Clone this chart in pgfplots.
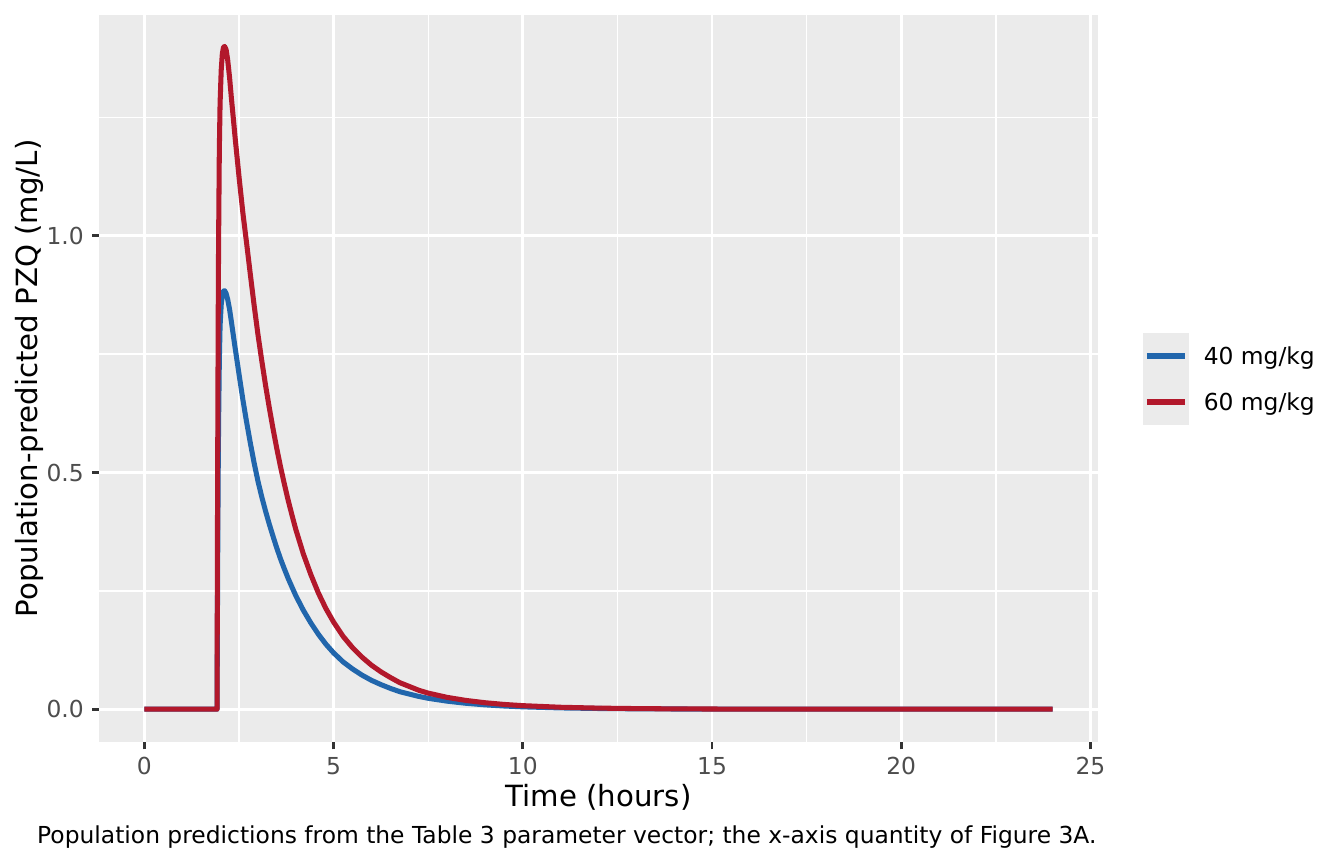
\documentclass[border=0pt]{standalone}
\usepackage{pgfplots}
\pgfplotsset{compat=1.18}
\usepackage{fontspec}
\setmainfont{DejaVu Sans}

\definecolor{panel}{HTML}{EBEBEB}
\definecolor{pzqblue}{HTML}{2166AC}
\definecolor{pzqred}{HTML}{B2182B}
\definecolor{ticktext}{HTML}{4D4D4D}
\definecolor{tickline}{HTML}{333333}
\newcommand{\ticksize}{\fontsize{8.8}{10}\selectfont}
\newcommand{\titlesize}{\fontsize{11}{13}\selectfont}

\begin{document}
\begin{tikzpicture}
\useasboundingbox (0,0) rectangle (505.89pt,325.22pt);
\begin{axis}[
  at={(37.26pt,45.81pt)}, anchor=south west,
  scale only axis, width=376.03pt, height=273.87pt,
  xmin=-1.2, xmax=25.2, ymin=-0.0699, ymax=1.467,
  axis background/.style={fill=panel},
  axis line style={draw=none},
  xtick={0,5,10,15,20,25}, xticklabels={0,5,10,15,20,25},
  ytick={0,0.5,1}, yticklabels={0.0,0.5,1.0},
  minor xtick={2.5,7.5,12.5,17.5,22.5},
  minor ytick={0.25,0.75,1.25},
  xtick pos=left, ytick pos=left,
  tick align=outside,
  major tick length=2.63pt, minor tick length=0pt,
  tick style={tickline, line width=1.07pt},
  grid=both,
  major grid style={white, line width=1.07pt},
  minor grid style={white, line width=0.53pt},
  ticklabel style={font=\ticksize, text=ticktext},
  xticklabel style={anchor=north, inner sep=0pt, yshift=-2.79pt},
  yticklabel style={anchor=east, inner sep=0pt, xshift=-2.9pt},
]
% 40 mg/kg
\addplot[pzqblue, line width=1.9pt, line join=round] table {
0 0
1.92 0
1.93 0.2
1.94 0.37
1.95 0.5
1.96 0.6
1.98 0.735
2.00 0.81
2.03 0.855
2.06 0.875
2.09 0.883
2.12 0.884
2.16 0.878
2.20 0.866
2.25 0.845
2.30 0.818
2.35 0.79
2.40 0.762
2.45 0.735
2.50 0.708
2.60 0.655
2.70 0.607
2.80 0.562
2.90 0.52
3.00 0.482
3.10 0.449
3.20 0.419
3.30 0.391
3.40 0.365
3.50 0.340
3.60 0.317
3.70 0.296
3.80 0.276
3.90 0.258
4.00 0.240
4.20 0.209
4.40 0.182
4.60 0.158
4.80 0.137
5.00 0.119
5.25 0.100
5.50 0.085
5.75 0.072
6.00 0.061
6.25 0.052
6.50 0.044
6.75 0.037
7.00 0.032
7.25 0.027
7.50 0.023
8.00 0.017
8.50 0.0125
9.00 0.0092
9.50 0.0068
10 0.005
11 0.0027
12 0.0015
13 0.0008
14 0.00045
15 0.00025
17 0.0001
24 0
};
% 60 mg/kg
\addplot[pzqred, line width=1.9pt, line join=round] table {
0 0
1.92 0
1.93 0.35
1.94 0.6
1.95 0.82
1.96 0.98
1.98 1.18
2.00 1.28
2.03 1.35
2.06 1.385
2.09 1.398
2.12 1.40
2.16 1.393
2.20 1.372
2.25 1.335
2.30 1.29
2.35 1.248
2.40 1.205
2.45 1.165
2.50 1.125
2.60 1.05
2.70 0.985
2.80 0.918
2.90 0.853
3.00 0.792
3.10 0.737
3.20 0.685
3.30 0.637
3.40 0.592
3.50 0.550
3.60 0.511
3.70 0.475
3.80 0.441
3.90 0.41
4.00 0.38
4.20 0.328
4.40 0.284
4.60 0.245
4.80 0.212
5.00 0.184
5.25 0.154
5.50 0.130
5.75 0.110
6.00 0.093
6.25 0.079
6.50 0.067
6.75 0.056
7.00 0.048
7.25 0.040
7.50 0.034
8.00 0.025
8.50 0.0185
9.00 0.0137
9.50 0.0101
10 0.0075
11 0.0041
12 0.0023
13 0.0013
14 0.0007
15 0.0004
17 0.00012
24 0
};
\end{axis}
\node[rotate=90, anchor=base, font=\titlesize] at (14.1pt,182.74pt) {Population-predicted PZQ (mg/L)};
\node[anchor=base, font=\titlesize] at (225.3pt,21.83pt) {Time (hours)};
\node[anchor=base east, inner sep=0pt, font=\ticksize] at (412.9pt,7.53pt) {Population predictions from the Table 3 parameter vector; the x-axis quantity of Figure 3A.};
% legend
\fill[panel] (430.23pt,165.24pt) rectangle (447.55pt,199.87pt);
\draw[pzqblue, line width=1.9pt] (431.7pt,191.21pt) -- (446.0pt,191.21pt);
\draw[pzqred, line width=1.9pt] (431.7pt,173.90pt) -- (446.0pt,173.90pt);
\node[anchor=base west, inner sep=0pt, font=\ticksize] at (452.9pt,188.2pt) {40 mg/kg};
\node[anchor=base west, inner sep=0pt, font=\ticksize] at (452.9pt,170.8pt) {60 mg/kg};
\end{tikzpicture}
\end{document}
